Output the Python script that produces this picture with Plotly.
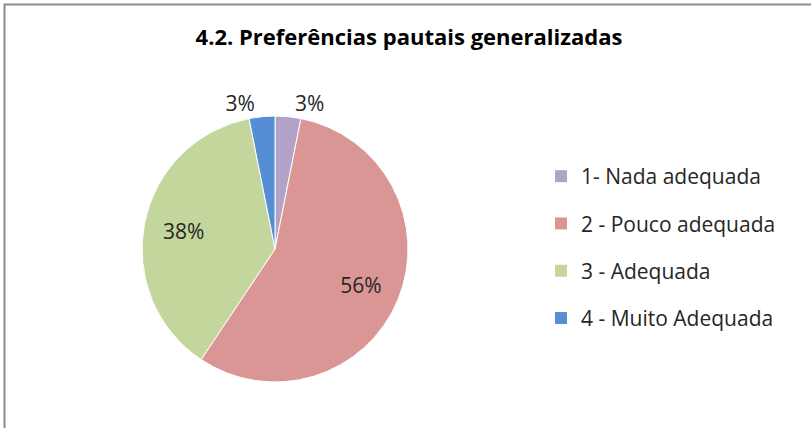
import plotly.graph_objects as go

categories = ["1- Nada adequada", "2 - Pouco adequada", "3 - Adequada", "4 - Muito Adequada"]
values = [1, 18, 12, 1]
colors = ["#B3A2C7", "#D99694", "#C3D69B", "#558ED5"]
text_positions = ["outside", "inside", "inside", "outside"]

W, H = 811, 428
dom = dict(x=[142 / W, 408 / W], y=[(H - 382) / H, (H - 116) / H])

fig = go.Figure()
# coloured pie
fig.add_trace(go.Pie(
    labels=categories, values=values,
    marker=dict(colors=colors, line=dict(color="white", width=1)),
    sort=False, direction="clockwise", rotation=0,
    textinfo="none", domain=dom, showlegend=False,
    hoverinfo="label+percent",
))
# transparent ring carrying the percentage labels (puts inside labels further out)
fig.add_trace(go.Pie(
    labels=categories, values=values,
    marker=dict(colors=["rgba(0,0,0,0)"] * len(values), line=dict(width=0)),
    sort=False, direction="clockwise", rotation=0, hole=0.4,
    texttemplate="%{percent:.0%}", textinfo="percent",
    textposition=text_positions, insidetextorientation="horizontal",
    textfont=dict(family="Open Sans", size=21, color="#262626"),
    domain=dom, showlegend=False, hoverinfo="skip",
))
# legend entries
for i, (cat, col) in enumerate(zip(categories, colors)):
    fig.add_trace(go.Scatter(
        x=[None], y=[None], mode="markers", name=cat,
        marker=dict(symbol="square", size=12, color=col),
        legendgroup=f"g{i}", showlegend=True, hoverinfo="skip",
    ))

fig.update_layout(
    width=W, height=H,
    margin=dict(l=0, r=0, t=0, b=0),
    paper_bgcolor="white", plot_bgcolor="white",
    xaxis=dict(visible=False, fixedrange=True), yaxis=dict(visible=False, fixedrange=True),
    title=dict(
        text="<b>4.2. Preferências pautais generalizadas</b>",
        x=409 / W, xanchor="center",
        y=1 - 37 / H, yanchor="middle",
        font=dict(family="Open Sans", size=22, color="#000000"),
    ),
    legend=dict(
        x=541 / W, xanchor="left",
        y=1 - 156 / H, yanchor="top",
        font=dict(family="Open Sans", size=21, color="#262626"),
        itemwidth=30, tracegroupgap=17,
        bgcolor="rgba(0,0,0,0)",
    ),
    shapes=[dict(
        type="rect", xref="paper", yref="paper",
        x0=4.5 / W, x1=1.1, y0=-0.1, y1=1 - 4.5 / H,
        line=dict(color="#8C8C8C", width=2),
        fillcolor="rgba(0,0,0,0)",
    )],
)

fig.write_html("out.html", config={"displayModeBar": False},
               post_script="document.body.style.margin='0px';")
